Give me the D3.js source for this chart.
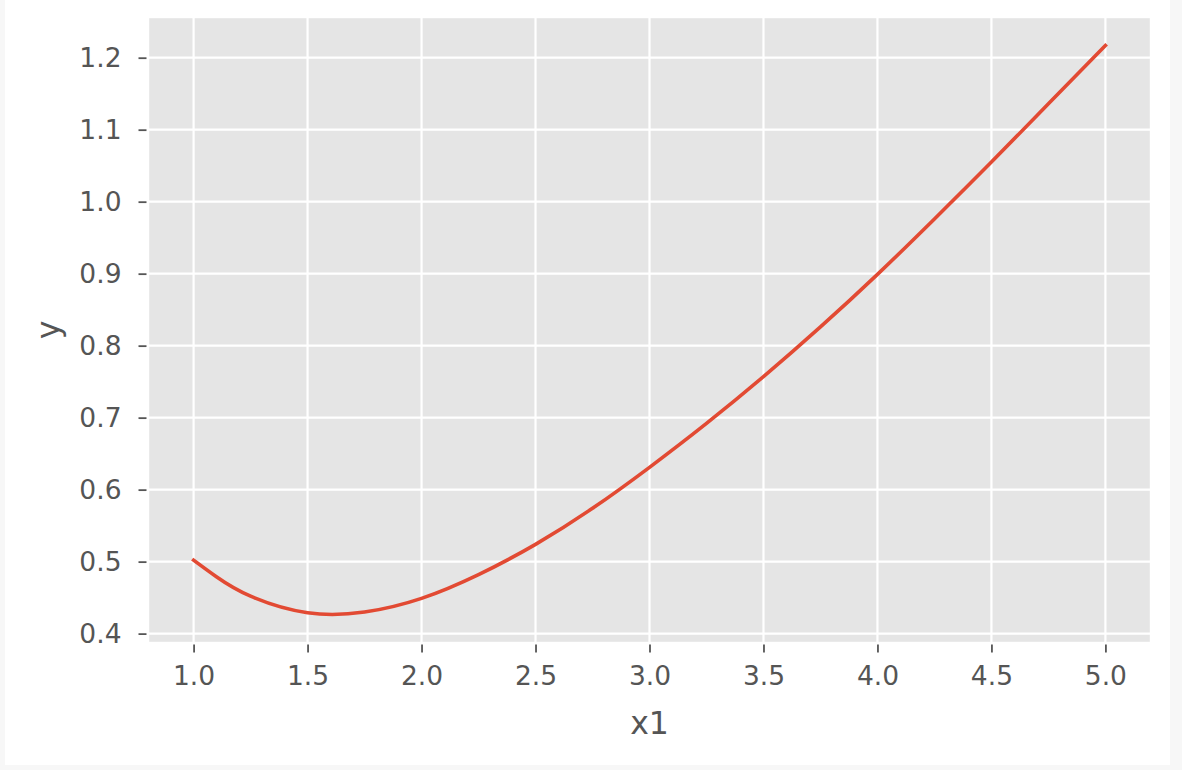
<!DOCTYPE html>
<html>
<head>
<meta charset="utf-8">
<script src="https://cdn.jsdelivr.net/npm/d3@7"></script>
<style>
    html, body { margin: 0; padding: 0; background: #f7f7f7; }
    svg { display: block; font-family: "DejaVu Sans", sans-serif; }
</style>
</head>
<body>
<svg id="chart" width="1182" height="770"></svg>
<script>
// values
const xValues = [1.0, 1.1, 1.25, 1.5, 1.75, 2.0, 2.25, 2.5, 2.75, 3.0, 3.25, 3.5, 3.75, 4.0, 4.25, 4.5, 4.75, 5.0]
const yValues = [0.502, 0.479, 0.452, 0.429, 0.430, 0.449, 0.482, 0.524, 0.574, 0.631, 0.692, 0.757, 0.826, 0.899, 0.976, 1.055, 1.136, 1.217]
const xTicks = [1.0, 1.5, 2.0, 2.5, 3.0, 3.5, 4.0, 4.5, 5.0]
const yTicks = [0.4, 0.5, 0.6, 0.7, 0.8, 0.9, 1.0, 1.1, 1.2]
const xLabel = "x1"
const yLabel = "y"

const svg = d3.select("#chart")
const plot = { left: 148, right: 1151, top: 17, bottom: 643 }
const textColor = "#555555"

// white figure sitting on the light grey page
svg.append("rect")
    .attr("x", 5).attr("y", 0)
    .attr("width", 1165).attr("height", 765)
    .attr("fill", "#ffffff")

// matplotlib style 5% margins
const xExt = d3.extent(xValues)
const yExt = [0.4265, d3.max(yValues)]   // curve dips a bit below the sampled 1.5 / 1.75 values
const xPad = (xExt[1] - xExt[0]) * 0.05
const yPad = (yExt[1] - yExt[0]) * 0.05

const x = d3.scaleLinear()
    .domain([xExt[0] - xPad, xExt[1] + xPad])
    .range([plot.left, plot.right])
const y = d3.scaleLinear()
    .domain([yExt[0] - yPad, yExt[1] + yPad])
    .range([plot.bottom, plot.top])

svg.append("rect")
    .attr("x", plot.left).attr("y", plot.top)
    .attr("width", plot.right - plot.left)
    .attr("height", plot.bottom - plot.top)
    .attr("fill", "#e5e5e5")
    .attr("stroke", "#ffffff")
    .attr("stroke-width", 2.4)

// grid
const grid = svg.append("g").attr("stroke", "#ffffff").attr("stroke-width", 2.2)
grid.selectAll(".vx").data(xTicks).enter().append("line")
    .attr("x1", d => x(d)).attr("x2", d => x(d))
    .attr("y1", plot.top).attr("y2", plot.bottom)
grid.selectAll(".hy").data(yTicks).enter().append("line")
    .attr("y1", d => y(d)).attr("y2", d => y(d))
    .attr("x1", plot.left).attr("x2", plot.right)

// axes
const xAxis = d3.axisBottom(x).tickValues(xTicks).tickFormat(d3.format(".1f"))
    .tickSizeInner(8).tickSizeOuter(0).tickPadding(14)
const yAxis = d3.axisLeft(y).tickValues(yTicks).tickFormat(d3.format(".1f"))
    .tickSizeInner(8).tickSizeOuter(0).tickPadding(17)

const gx = svg.append("g")
    .attr("transform", "translate(0," + (plot.bottom + 1.5) + ")")
    .call(xAxis)
const gy = svg.append("g")
    .attr("transform", "translate(" + (plot.left - 1.5) + ",0)")
    .call(yAxis)

for (const g of [gx, gy]) {
    g.select(".domain").remove()
    g.selectAll(".tick line").attr("stroke", textColor).attr("stroke-width", 1.8)
    g.selectAll(".tick text")
        .attr("fill", textColor)
        .style("font-size", "26.5px")
        .style("font-family", "'DejaVu Sans', sans-serif")
}

svg.append("text")
    .attr("x", (plot.left + plot.right) / 2)
    .attr("y", 734)
    .attr("text-anchor", "middle")
    .attr("fill", textColor)
    .style("font-size", "31.5px")
    .text(xLabel)

svg.append("text")
    .attr("transform", "translate(59," + ((plot.top + plot.bottom) / 2) + ") rotate(-90)")
    .attr("text-anchor", "middle")
    .attr("fill", textColor)
    .style("font-size", "31.5px")
    .text(yLabel)

// the curve
const line = d3.line()
    .x(d => x(d[0]))
    .y(d => y(d[1]))
    .curve(d3.curveNatural)

svg.append("path")
    .datum(xValues.map((v, i) => [v, yValues[i]]))
    .attr("fill", "none")
    .attr("stroke", "#E24A33")
    .attr("stroke-width", 3.6)
    .attr("stroke-linecap", "square")
    .attr("d", line)
</script>
</body>
</html>
